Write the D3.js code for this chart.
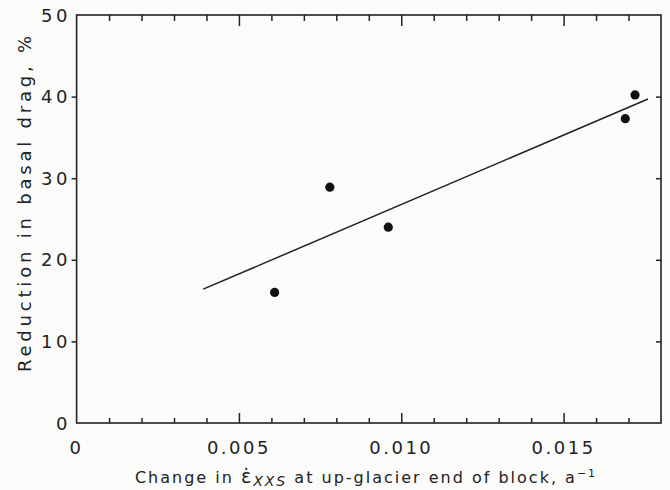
<!DOCTYPE html>
<html>
<head>
<meta charset="utf-8">
<script src="https://cdn.jsdelivr.net/npm/d3@7"></script>
<style>
  html, body { margin: 0; padding: 0; background: #fbfbf9; }
  svg { display: block; }
  text { font-family: "DejaVu Sans", sans-serif; fill: #222; }
</style>
</head>
<body>
<svg id="chart" width="670" height="490"></svg>
<script>
// Data
const strainChange = [0.0061, 0.0078, 0.0096, 0.0169, 0.0172];
const dragReduction = [16.0, 28.9, 24.0, 37.3, 40.2];
// regression line endpoints
const fitX = [0.0039, 0.0176];
const fitY = [16.4, 39.7];
const xMajorTicks = [0, 0.005, 0.010, 0.015];
const xTickLabels = ["0", "0.005", "0.010", "0.015"];
const yMajorTicks = [0, 10, 20, 30, 40, 50];
const yTickLabels = ["0", "10", "20", "30", "40", "50"];

const svg = d3.select("#chart");
const pLeft = 76.6, pRight = 661, pTop = 15, pBottom = 423;
const x = d3.scaleLinear().domain([0, 0.018]).range([pLeft, pRight]);
const y = d3.scaleLinear().domain([0, 50]).range([pBottom, pTop]);
const ink = "#222";

const xMinor = d3.range(1, 18).map(i => i / 1000).filter((v, i) => (i + 1) % 5 !== 0);
const xMajorInner = [0.005, 0.010, 0.015];

// Frame
svg.append("rect").attr("x", pLeft).attr("y", pTop)
  .attr("width", pRight - pLeft).attr("height", pBottom - pTop)
  .attr("fill", "none").attr("stroke", ink).attr("stroke-width", 1.6);

// Bottom axis ticks (inward)
const gB = svg.append("g").attr("transform", `translate(0,${pBottom})`);
gB.call(d3.axisBottom(x).tickValues(xMinor).tickSize(-5).tickFormat(""));
gB.append("g").call(d3.axisBottom(x).tickValues(xMajorInner).tickSize(-10).tickFormat(""));
// Top axis ticks (inward)
const gT = svg.append("g").attr("transform", `translate(0,${pTop})`);
gT.call(d3.axisTop(x).tickValues(xMinor).tickSize(-6).tickFormat(""));
gT.append("g").call(d3.axisTop(x).tickValues(xMajorInner).tickSize(-11).tickFormat(""));
// Left axis ticks (outward)
const gL = svg.append("g").attr("transform", `translate(${pLeft},0)`);
gL.call(d3.axisLeft(y).tickValues(yMajorTicks.slice(1, 5)).tickSize(5).tickFormat(""));
// Right axis ticks (inward)
const gR = svg.append("g").attr("transform", `translate(${pRight},0)`);
gR.call(d3.axisRight(y).tickValues(yMajorTicks.slice(1, 5)).tickSize(-5).tickFormat(""));

svg.selectAll(".domain").remove();
svg.selectAll(".tick line").attr("stroke", ink).attr("stroke-width", 1.5);

// X tick labels
svg.append("g").selectAll("text").data(xMajorTicks).join("text")
  .attr("x", d => x(d)).attr("y", 454)
  .attr("text-anchor", "middle")
  .attr("font-size", 18).attr("letter-spacing", 2.5)
  .text((d, i) => xTickLabels[i]);

// Y tick labels
svg.append("g").selectAll("text").data(yMajorTicks).join("text")
  .attr("x", 71).attr("y", d => y(d) + 6.5)
  .attr("text-anchor", "end")
  .attr("font-size", 18).attr("letter-spacing", 3.5)
  .text((d, i) => yTickLabels[i]);

// Axis titles
const xt = svg.append("text").attr("x", 366).attr("y", 483)
  .attr("text-anchor", "middle").attr("font-size", 16).attr("letter-spacing", 2);
xt.append("tspan").text("Change in ");
xt.append("tspan").attr("font-size", 19).text("\u03B5\u0307");
xt.append("tspan").attr("font-style", "italic").attr("font-size", 14).attr("dy", 3).text("XXS");
xt.append("tspan").attr("dy", -3).text(" at up-glacier end of block, a");
xt.append("tspan").attr("font-size", 11).attr("dy", -6).text("\u22121");

svg.append("text")
  .attr("transform", "translate(31,202) rotate(-90)")
  .attr("text-anchor", "middle").attr("font-size", 18).attr("letter-spacing", 3.8)
  .text("Reduction in basal drag, %");

// Fit line
svg.append("path")
  .datum(fitX.map((v, i) => [v, fitY[i]]))
  .attr("d", d3.line().x(d => x(d[0])).y(d => y(d[1])))
  .attr("stroke", ink).attr("stroke-width", 1.5).attr("fill", "none");

// Points
svg.append("g").selectAll("circle").data(strainChange).join("circle")
  .attr("cx", d => x(d)).attr("cy", (d, i) => y(dragReduction[i]))
  .attr("r", 4.6).attr("fill", "#111");
</script>
</body>
</html>
